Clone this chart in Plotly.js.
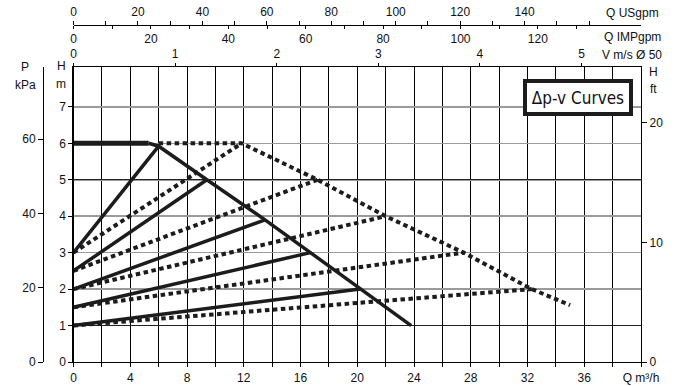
<!DOCTYPE html>
<html><head><meta charset="utf-8">
<script src="https://cdn.plot.ly/plotly-3.0.1.min.js"></script>
<style>html,body{margin:0;padding:0;background:#fff}#chart{width:678px;height:386px}</style>
</head><body><div id="chart"></div>
<script>
// ---- data (Q in m3/h, H in m) ----
const flatFlow = [0, 5.3];
const flatHead = [6.0, 6.0];
const maxSolidFlow = [5.3, 6.0, 9.4, 13.5, 16.7, 20.2, 23.8];
const maxSolidHead = [6.0, 5.92, 5.0, 3.9, 3.0, 2.0, 1.0];
const startHeads = [3.0, 2.5, 2.0, 1.5, 1.0];
const solidEndFlow = [6.0, 9.4, 13.5, 16.7, 20.2];
const solidEndHead = [5.92, 5.0, 3.9, 3.0, 2.0];
const maxDottedFlow = [6.0, 11.85, 17.2, 22.0, 27.5, 32.3, 35.0];
const maxDottedHead = [6.0, 6.0, 5.0, 4.0, 3.0, 2.0, 1.56];
const dottedEndFlow = [11.85, 17.2, 22.0, 27.5, 32.3];
const dottedEndHead = [6.0, 5.0, 4.0, 3.0, 2.0];

const flowTickVals = [0, 4, 8, 12, 16, 20, 24, 28, 32, 36, 40];
const flowTickText = ['0', '4', '8', '12', '16', '20', '24', '28', '32', '36', 'Q m³/h'];
const headTicks = [0, 1, 2, 3, 4, 5, 6, 7];
const kpaTicks = [0, 20, 40, 60];
const ftTicks = [0, 10, 20];
const usgpmTicks = [0, 10, 20, 30, 40, 50, 60, 70, 80, 90, 100, 110, 120, 130, 140, 150, 160];
const usgpmText = ['0', '', '20', '', '40', '', '60', '', '80', '', '100', '', '120', '', '140', '', ''];
const impTicks = [0, 10, 20, 30, 40, 50, 60, 70, 80, 90, 100, 110, 120, 130];
const impText = ['0', '', '20', '', '40', '', '60', '', '80', '', '100', '', '120', ''];
const velTicks = [0, 1, 2, 3, 4, 5];

// unit conversions (as drawn on the chart)
const Q_MAX = 40, H_MAX = 8.085;
const KPA_PER_M = 9.81;
const FT_TOP = 24.64;
const M3H_PER_USGPM = 0.22712;
const M3H_PER_IMPGPM = 0.27277;
const M3H_PER_MS = 7.162;

const INK = '#1c1c1c';
const FONT = {family: 'Liberation Sans, Arial, sans-serif', size: 12, color: '#111'};

const traces = [];
const dot = {color: INK, width: 4, dash: '4.5px,3.5px'};
const sol = {color: INK, width: 3.5};
for (let i = 0; i < startHeads.length; i++) {
  traces.push({x: [0, dottedEndFlow[i]], y: [startHeads[i], dottedEndHead[i]], mode: 'lines', line: dot});
}
traces.push({x: maxDottedFlow, y: maxDottedHead, mode: 'lines', line: dot});
for (let i = 0; i < startHeads.length; i++) {
  traces.push({x: [0, solidEndFlow[i]], y: [startHeads[i], solidEndHead[i]], mode: 'lines', line: sol});
}
traces.push({x: maxSolidFlow, y: maxSolidHead, mode: 'lines', line: sol});
traces.push({x: flatFlow, y: flatHead, mode: 'lines', line: {color: INK, width: 5}});
// empty traces to register the extra axes
[['x2','y'],['x3','y'],['x4','y'],['x','y2'],['x','y3'],['x','y4']].forEach(p => {
  traces.push({x: [null], y: [null], xaxis: p[0], yaxis: p[1], mode: 'lines'});
});
traces.forEach(t => { t.showlegend = false; t.hoverinfo = 'skip'; });

const L = 43, R = 37, T = 8, B = 24, W = 678, Hh = 386;
const pw = W - L - R, ph = Hh - T - B;
const px = v => (v - L) / pw;
const py = v => (Hh - B - v) / ph;
const xDomStart = px(73.5);
const yDomTop = py(67.3);

const baseAxis = {
  showline: true, linecolor: '#000', linewidth: 1.2, ticks: 'outside', ticklen: 4,
  tickcolor: '#000', tickwidth: 1, zeroline: false, tickfont: FONT, fixedrange: true
};

const ann = (text, x, y, extra) => Object.assign({
  text: text, xref: 'paper', yref: 'paper', x: px(x), y: py(y),
  xanchor: 'center', yanchor: 'middle', showarrow: false, font: FONT
}, extra || {});

const layout = {
  width: W, height: Hh, margin: {l: L, r: R, t: T, b: B},
  paper_bgcolor: '#fff', plot_bgcolor: '#fff', showlegend: false,
  xaxis: Object.assign({}, baseAxis, {
    domain: [xDomStart, 1], range: [0, Q_MAX], anchor: 'y',
    tickvals: flowTickVals, ticktext: flowTickText,
    showgrid: true, gridcolor: '#000', gridwidth: 1,
    minor: {dtick: 2, ticks: 'outside', ticklen: 4, tickcolor: '#000', showgrid: true, gridcolor: '#000', gridwidth: 1}
  }),
  xaxis2: Object.assign({}, baseAxis, {
    overlaying: 'x', side: 'top', anchor: 'y', range: [0, Q_MAX / M3H_PER_MS],
    tickvals: velTicks, showgrid: false, ticklen: 3
  }),
  xaxis3: Object.assign({}, baseAxis, {
    overlaying: 'x', side: 'top', anchor: 'free', position: py(24.5),
    range: [0, Q_MAX / M3H_PER_USGPM], tickvals: usgpmTicks, ticktext: usgpmText, showgrid: false, ticklen: 4
  }),
  xaxis4: Object.assign({}, baseAxis, {
    overlaying: 'x', side: 'bottom', anchor: 'free', position: py(24.5),
    range: [0, Q_MAX / M3H_PER_IMPGPM], tickvals: impTicks, ticktext: impText, showgrid: false, ticklen: 3
  }),
  yaxis: Object.assign({}, baseAxis, {
    domain: [0, yDomTop], range: [0, H_MAX], anchor: 'x', tickvals: headTicks,
    showgrid: true, gridcolor: '#9a9a9a', gridwidth: 1.5
  }),
  yaxis2: Object.assign({}, baseAxis, {
    overlaying: 'y', anchor: 'free', position: 0, side: 'left',
    range: [0, H_MAX * KPA_PER_M], tickvals: kpaTicks, showgrid: false, ticklen: 5
  }),
  yaxis3: Object.assign({}, baseAxis, {
    overlaying: 'y', anchor: 'x', side: 'right', range: [0, FT_TOP],
    tickvals: ftTicks, showgrid: false, ticklen: 5
  }),
  yaxis4: {
    overlaying: 'y', anchor: 'x', side: 'left', range: [0, H_MAX], tickvals: [1, 5],
    showticklabels: false, ticks: '', showline: false, zeroline: false,
    showgrid: true, gridcolor: '#222', gridwidth: 1, fixedrange: true
  },
  annotations: [
    ann('P', 25, 67), ann('kPa', 25, 85),
    ann('H', 61, 66), ann('m', 61, 84),
    ann('H', 653, 72), ann('ft', 653, 89),
    ann('Q USgpm', 632, 13), ann('Q IMPgpm', 632, 37), ann('V m/s Ø 50', 632, 55),
    ann('Δp-v Curves', 578, 97.5, {
      font: {family: 'Liberation Sans Narrow, DejaVu Sans Condensed, Arial Narrow, sans-serif', size: 17, color: '#111'},
      bgcolor: '#fff', bordercolor: INK, borderwidth: 4, borderpad: 0, width: 102, height: 29
    })
  ]
};

Plotly.newPlot('chart', traces, layout, {displayModeBar: false, staticPlot: true});
</script>
</body></html>
